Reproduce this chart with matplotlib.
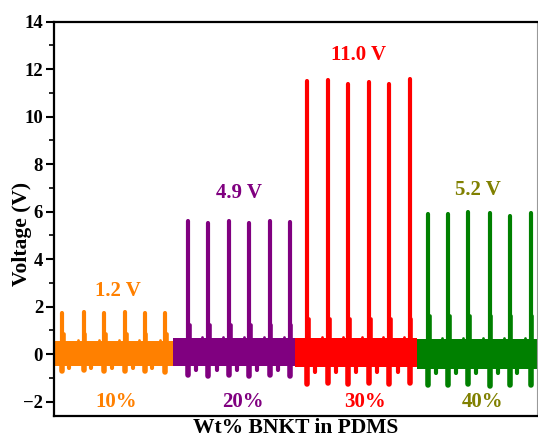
import matplotlib
matplotlib.use('Agg')
import matplotlib.pyplot as plt
from matplotlib.ticker import MultipleLocator

plt.rcParams['font.family'] = ['Liberation Serif', 'DejaVu Serif']
plt.rcParams['font.weight'] = 'bold'

# BNKT loadings, one recording window each (10 s per window)
loadings = ['10%', '20%', '30%', '40%']
seg_start = [0, 10, 20, 30]
seg_end = [10, 20, 30, 40]
colors = ['#FF8000', '#800080', '#FF0000', '#008000']
text_colors = ['#FF8000', '#800080', '#FF0000', '#808000']

# output voltage quoted for each loading
output_v = [1.2, 4.9, 11.0, 5.2]

# spike times (s) and peak voltages (V)
spike_t = [
    [0.92, 2.70, 4.34, 6.08, 7.69, 9.36],
    [11.24, 12.88, 14.60, 16.24, 17.93, 19.57],
    [20.99, 22.71, 24.34, 26.06, 27.70, 29.40],
    [30.90, 32.53, 34.17, 35.95, 37.59, 39.27],
]
spike_peak = [
    [1.72, 1.78, 1.72, 1.78, 1.74, 1.74],
    [5.62, 5.52, 5.59, 5.51, 5.59, 5.58],
    [11.50, 11.55, 11.39, 11.46, 11.39, 11.60],
    [5.92, 5.90, 5.97, 5.95, 5.83, 5.93],
]
# negative swing right under each spike
spike_dip = [
    [-0.70, -0.68, -0.72, -0.70, -0.69, -0.74],
    [-0.88, -0.92, -0.89, -0.90, -0.88, -0.92],
    [-1.24, -1.21, -1.27, -1.23, -1.26, -1.21],
    [-1.29, -1.31, -1.27, -1.33, -1.29, -1.31],
]
# decay shoulder just after each spike
shoulder = [0.85, 1.25, 1.50, 1.60]

# background noise band (V)
band_top = [0.55, 0.68, 0.68, 0.62]
band_bottom = [-0.48, -0.50, -0.55, -0.62]

# smaller swings between spikes, below and above the band
mid_t = [
    [1.5, 2.2, 3.3, 3.9, 5.0, 5.6, 6.7, 7.2, 8.3, 8.9],
    [11.9, 12.4, 13.6, 14.1, 15.2, 15.8, 16.9, 17.4, 18.6, 19.1],
    [21.6, 22.2, 23.3, 23.9, 25.0, 25.5, 26.7, 27.2, 28.4, 28.9],
    [31.5, 32.0, 33.2, 33.7, 34.8, 35.4, 36.6, 37.1, 38.2, 38.8],
]
mid_dip = [-0.60, -0.68, -0.76, -0.80]
mid_bump = [0.58, 0.72, 0.73, 0.67]

label_xy = [(5.48, 2.64), (15.39, 6.78), (25.16, 12.57), (34.99, 6.89)]
pct_x = [5.33, 15.68, 25.71, 35.35]
pct_y = -1.99

fig = plt.figure(figsize=(5.38, 4.38), dpi=100)
ax = fig.add_axes([53.5 / 538, (438 - 416) / 438, (537 - 53.5) / 538, (416 - 21.5) / 438])

for i in range(4):
    c = colors[i]
    ax.fill_between([seg_start[i], seg_end[i]], [band_bottom[i]] * 2, [band_top[i]] * 2,
                    color=c, lw=0)
    lines = [
        ax.vlines(spike_t[i], 0, spike_peak[i], color=c, lw=3.0),
        ax.vlines([t + 0.12 for t in spike_t[i]], 0, shoulder[i], color=c, lw=2.6),
        ax.vlines(spike_t[i], 0, spike_dip[i], color=c, lw=4.0),
        ax.vlines(mid_t[i][::2], 0, mid_dip[i], color=c, lw=3.0),
        ax.vlines(mid_t[i][1::2], 0, mid_bump[i], color=c, lw=2.0),
    ]
    for lc in lines:
        lc.set_capstyle('round')

    lx, ly = label_xy[i]
    ax.text(lx, ly, f'{output_v[i]:.1f} V', color=text_colors[i], fontsize=15,
            fontweight='bold', ha='center', va='center')
    ax.text(pct_x[i], pct_y, loadings[i], color=text_colors[i], fontsize=15,
            fontweight='bold', ha='center', va='center')

ax.set_xlim(0.2, 39.8)
ax.set_ylim(-2.6, 14)
ax.set_xticks([])
ax.set_yticks(range(-2, 15, 2))
ax.yaxis.set_minor_locator(MultipleLocator(1))
ax.tick_params(axis='y', which='major', direction='out', length=6, width=1.5,
               labelsize=13.5, pad=1.5)
ax.tick_params(axis='y', which='minor', direction='out', length=3.5, width=1.2)
for lab in ax.get_yticklabels():
    lab.set_fontweight('bold')

for side in ['top', 'bottom', 'left']:
    ax.spines[side].set_linewidth(1.6)
    ax.spines[side].set_color('black')
ax.spines['right'].set_linewidth(0.8)
ax.spines['right'].set_color('#999999')

ax.set_ylabel('Voltage (V)', fontsize=15.5, fontweight='bold')
ax.yaxis.set_label_coords(-0.044, 0.461)
ax.set_xlabel('Wt% BNKT in PDMS', fontsize=15.5, fontweight='bold')
ax.xaxis.set_label_coords(0.5, -0.006)

fig.savefig('out.png', dpi=100)
